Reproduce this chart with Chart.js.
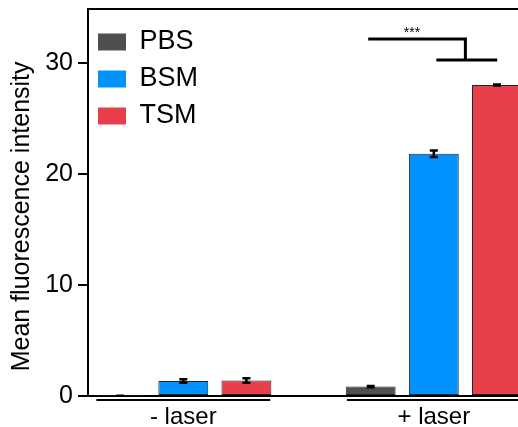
<!DOCTYPE html>
<html>
<head>
<meta charset="utf-8">
<script src="https://cdn.jsdelivr.net/npm/chart.js@4.4.1/dist/chart.umd.min.js"></script>
<style>
  body { margin: 0; background: #fff; }
  #wrap { width: 518px; height: 427px; overflow: hidden; }
</style>
</head>
<body>
<div id="wrap"><canvas id="myChart" width="518" height="427"></canvas></div>
<script>
// groups on the x axis
var groups = ["- laser", "+ laser"];
var seriesNames = ["PBS", "BSM", "TSM"];
var colors = ["#4f4f4f", "#0093ff", "#e8404a"];

// mean values
var pbs = [0.03, 0.85];
var bsm = [1.35, 21.85];
var tsm = [1.4, 28.05];
// error bar half heights
var pbsErr = [0, 0.05];
var bsmErr = [0.15, 0.3];
var tsmErr = [0.2, 0.05];

var yTicks = [0, 10, 20, 30];

var values = [pbs, bsm, tsm];
var errors = [pbsErr, bsmErr, tsmErr];

var datasets = seriesNames.map(function(name, i){
  return {
    label: name,
    data: values[i].map(function(v, j){ return {x: j, y: v}; }),
    err: errors[i],
    backgroundColor: colors[i],
    borderColor: "#1e2530",
    borderWidth: 1,
    borderSkipped: false,
    categoryPercentage: 0.756,
    barPercentage: 0.79
  };
});

// error bars, frame top line, group underlines and the *** bracket
var extras = {
  id: "extras",
  afterDatasetsDraw: function(chart){
    var ctx = chart.ctx;
    var ys = chart.scales.y;
    ctx.save();
    ctx.strokeStyle = "#000";
    ctx.lineWidth = 2.5;
    chart.data.datasets.forEach(function(ds, i){
      var meta = chart.getDatasetMeta(i);
      meta.data.forEach(function(bar, j){
        var v = ds.data[j].y, e = ds.err[j];
        var top = ys.getPixelForValue(v + e);
        var bot = ys.getPixelForValue(v - e);
        ctx.beginPath();
        ctx.moveTo(bar.x, top); ctx.lineTo(bar.x, bot);
        ctx.moveTo(bar.x - 4, top); ctx.lineTo(bar.x + 4, top);
        ctx.moveTo(bar.x - 4, bot); ctx.lineTo(bar.x + 4, bot);
        ctx.stroke();
      });
    });
    ctx.restore();
  },
  afterDraw: function(chart){
    var ctx = chart.ctx;
    var xs = chart.scales.x, ys = chart.scales.y;
    var area = chart.chartArea;
    ctx.save();
    ctx.strokeStyle = "#000";
    ctx.lineWidth = 2;
    // top of the frame
    ctx.beginPath();
    ctx.moveTo(area.left - 1, area.top);
    ctx.lineTo(area.right, area.top);
    ctx.stroke();
    // lines under each group
    groups.forEach(function(g, j){
      ctx.beginPath();
      ctx.moveTo(xs.getPixelForValue(j - 0.347), area.bottom + 4);
      ctx.lineTo(xs.getPixelForValue(j + 0.347), area.bottom + 4);
      ctx.stroke();
    });
    // significance bracket
    ctx.lineWidth = 3;
    ctx.beginPath();
    ctx.moveTo(xs.getPixelForValue(0.738), ys.getPixelForValue(32.2));
    ctx.lineTo(xs.getPixelForValue(1.126), ys.getPixelForValue(32.2));
    ctx.lineTo(xs.getPixelForValue(1.126), ys.getPixelForValue(30.3));
    ctx.moveTo(xs.getPixelForValue(1.01), ys.getPixelForValue(30.3));
    ctx.lineTo(xs.getPixelForValue(1.253), ys.getPixelForValue(30.3));
    ctx.stroke();
    ctx.fillStyle = "#000";
    ctx.font = "14px 'Liberation Sans', Arial, sans-serif";
    ctx.textAlign = "center";
    ctx.textBaseline = "alphabetic";
    ctx.fillText("***", xs.getPixelForValue(0.913), ys.getPixelForValue(32.2) - 2);
    ctx.restore();
  }
};

var ctx = document.getElementById("myChart").getContext("2d");
var myChart = new Chart(ctx, {
  type: "bar",
  data: { datasets: datasets },
  plugins: [extras],
  options: {
    responsive: false,
    animation: false,
    layout: { padding: { top: 9, right: 0, left: 0, bottom: 0 } },
    plugins: {
      tooltip: { enabled: false },
      legend: {
        position: "chartArea",
        align: "start",
        // empty title only pushes the items down
        title: { display: true, text: " ", font: { size: 10 }, padding: { top: 6.5, bottom: 0 } },
        labels: {
          color: "#000",
          font: { family: "'Liberation Sans', Arial, sans-serif", size: 27 },
          boxWidth: 28,
          boxHeight: 17,
          padding: 10,
          generateLabels: function(chart){
            return chart.data.datasets.map(function(ds, i){
              return { text: ds.label, fillStyle: ds.backgroundColor, strokeStyle: ds.backgroundColor,
                       lineWidth: 0, fontColor: "#000", datasetIndex: i };
            });
          }
        }
      }
    },
    scales: {
      x: {
        type: "linear",
        offset: false,
        min: -0.3804,
        max: 1.336,
        afterFit: function(s){ s.height = 31; s.paddingLeft = 0; s.paddingRight = 0; },
        border: { display: true, color: "#000", width: 2 },
        grid: { display: false, drawTicks: false, offset: false },
        ticks: {
          stepSize: 1,
          includeBounds: false,
          padding: 9,
          color: "#000",
          font: { family: "'Liberation Sans', Arial, sans-serif", size: 24, lineHeight: 1 },
          callback: function(v){ return groups[v]; }
        }
      },
      y: {
        min: 0,
        max: 34.9,
        afterFit: function(s){ s.width = 88; s.paddingTop = 0; s.paddingBottom = 0; },
        afterBuildTicks: function(s){ s.ticks = yTicks.map(function(v){ return {value: v}; }); },
        border: { display: true, color: "#000", width: 2 },
        grid: { drawOnChartArea: false, drawTicks: true, tickLength: 10, color: "#000", lineWidth: 2 },
        ticks: {
          padding: 5,
          color: "#000",
          font: { family: "'Liberation Sans', Arial, sans-serif", size: 25 }
        },
        title: {
          display: true,
          text: "Mean fluorescence intensity    ",
          color: "#000",
          padding: { top: 7, bottom: 0 },
          font: { family: "'Liberation Sans', Arial, sans-serif", size: 25 }
        }
      }
    }
  }
});
</script>
</body>
</html>
